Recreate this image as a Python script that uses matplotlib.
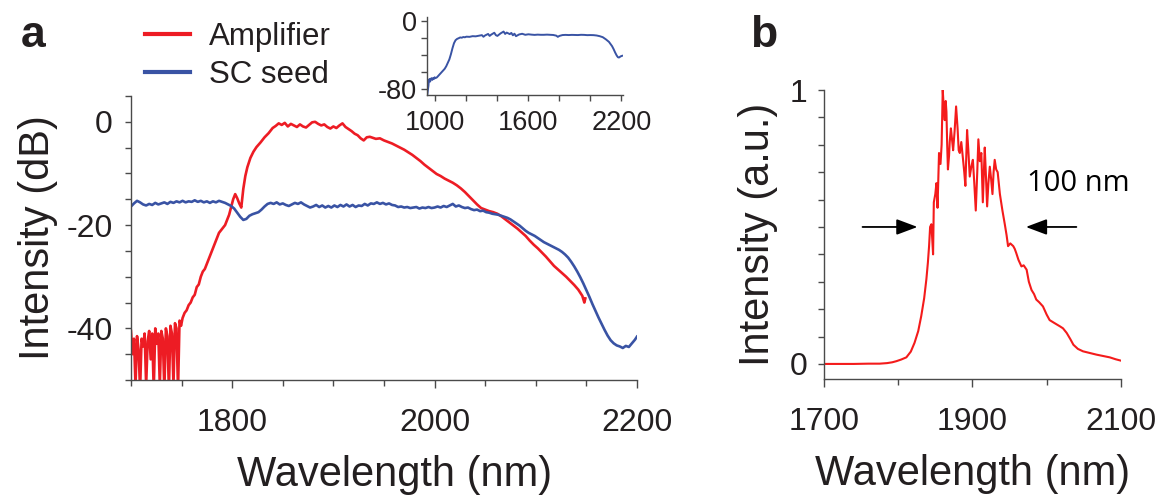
import matplotlib
matplotlib.use("Agg")
import matplotlib.pyplot as plt
from matplotlib.ticker import MultipleLocator, FixedLocator

plt.rcParams['font.family'] = ['Liberation Sans', 'DejaVu Sans']
plt.rcParams['axes.unicode_minus'] = False

# ---------------- Data ----------------
# Panel a: amplifier output (dB)
amp_wl = [1700, 1701.5, 1703, 1704.5, 1706, 1707.5, 1709, 1710.5, 1712, 1713.5, 1715, 1716.5,
          1718, 1719.5, 1721, 1722.5, 1724, 1725.5, 1727, 1728.5, 1730, 1731.5, 1733, 1734.5,
          1736, 1737.5, 1739, 1740.5, 1742, 1743.5, 1745, 1746.5, 1748, 1749.5, 1751, 1753,
          1755, 1757, 1759, 1761, 1763, 1765, 1767, 1769, 1771, 1773, 1775, 1777, 1779, 1781,
          1783, 1785, 1787, 1789, 1791, 1793, 1795, 1797, 1799, 1801, 1803, 1805, 1807, 1809,
          1811, 1813, 1815, 1818, 1821, 1824, 1828, 1832, 1836, 1840, 1843, 1846, 1849, 1852,
          1855, 1858, 1861, 1864, 1867, 1870, 1873, 1876, 1879, 1882, 1885, 1888, 1891, 1894,
          1897, 1900, 1903, 1906, 1909, 1912, 1915, 1918, 1921, 1924, 1927, 1930, 1933, 1936,
          1939, 1942, 1946, 1950, 1954, 1958, 1962, 1966, 1970, 1974, 1978, 1982, 1986, 1990,
          1994, 1998, 2002, 2006, 2010, 2014, 2018, 2022, 2026, 2030, 2034, 2038, 2042, 2046,
          2050, 2054, 2058, 2062, 2066, 2070, 2074, 2078, 2082, 2086, 2090, 2094, 2098, 2102,
          2106, 2110, 2114, 2118, 2122, 2126, 2130, 2134, 2138, 2142, 2146, 2148, 2149]
amp_db = [-40.5, -45, -42, -51, -41.5, -44, -52, -42, -43.5, -41, -51, -42.5,
          -40.5, -46, -41, -52, -40, -43, -41, -51, -40.5, -42, -52, -40,
          -41.5, -52, -39.5, -41, -51, -39, -40, -52, -38.5, -39.5, -38, -37,
          -36.5, -35.5, -35, -34, -33.5, -32, -31.5, -30, -29, -28.5, -27.5, -26.5, -25.5, -24.5,
          -23.5, -22.5, -21.5, -21, -20.5, -20, -19, -18, -16.5, -15, -14, -14.8, -15.8, -16.6,
          -13, -10.5, -8.8, -7, -5.8, -4.9, -4, -3, -2.2, -1.2, -0.8, -0.3, -0.6, -0.2,
          -0.9, -0.4, -0.7, -1.0, -0.5, -0.9, -1.1, -0.6, -0.1, 0.0, -0.4, -0.7, -0.5, -1.0,
          -1.3, -0.9, -1.2, -0.7, -0.3, -1.0, -1.4, -1.8, -2.3, -2.6, -3.2, -3.6, -3.0, -2.9,
          -3.1, -3.3, -3.2, -3.6, -3.9, -4.2, -4.6, -5.0, -5.4, -5.9, -6.4, -7.0, -7.6, -8.3,
          -8.9, -9.5, -10.1, -10.5, -11.0, -11.4, -11.8, -12.3, -12.9, -13.6, -14.4, -15.2, -16.0, -16.7,
          -17.0, -17.3, -17.5, -17.8, -18.3, -18.9, -19.5, -20.1, -20.7, -21.4, -22.1, -23.0, -23.8, -24.5,
          -25.3, -26.1, -27.0, -27.9, -28.6, -29.3, -30.0, -30.8, -31.6, -32.5, -33.7, -35.0, -34.2]

# Panel a: supercontinuum seed (dB)
seed_wl = [1700, 1703, 1706, 1709, 1712, 1715, 1718, 1721, 1724, 1727, 1730, 1733, 1736, 1739,
           1742, 1745, 1748, 1751, 1754, 1757, 1760, 1763, 1766, 1769, 1772, 1775, 1778, 1781,
           1784, 1787, 1790, 1793, 1796, 1799, 1802, 1805, 1808, 1811, 1814, 1817, 1820, 1823,
           1826, 1829, 1832, 1835, 1838, 1841, 1844, 1847, 1850, 1853, 1856, 1859, 1862, 1865,
           1868, 1871, 1874, 1877, 1880, 1883, 1886, 1889, 1892, 1895, 1898, 1901, 1904, 1907,
           1910, 1913, 1916, 1919, 1922, 1925, 1928, 1931, 1934, 1937, 1940, 1943, 1946, 1949,
           1952, 1955, 1958, 1961, 1964, 1967, 1970, 1973, 1976, 1979, 1982, 1985, 1988, 1991,
           1994, 1997, 2000, 2003, 2006, 2009, 2012, 2015, 2018, 2021, 2024, 2027, 2030, 2033,
           2036, 2039, 2042, 2045, 2048, 2051, 2054, 2057, 2060, 2063, 2066, 2069, 2072, 2075,
           2078, 2081, 2084, 2087, 2090, 2093, 2096, 2099, 2102, 2105, 2108, 2111, 2114, 2117,
           2120, 2123, 2126, 2129, 2132, 2135, 2138, 2141, 2144, 2147, 2150, 2153, 2156, 2159,
           2162, 2165, 2168, 2171, 2174, 2177, 2180, 2183, 2186, 2189, 2192, 2195, 2198, 2200]
seed_db = [-16.4, -15.8, -15.3, -15.6, -16.0, -16.2, -15.9, -16.1, -15.7, -16.0, -15.8, -15.6, -15.9, -15.5,
           -15.7, -15.4, -15.6, -15.3, -15.6, -15.4, -15.5, -15.2, -15.5, -15.3, -15.6, -15.4, -15.7, -15.4,
           -15.6, -15.3, -15.5, -15.7, -16.0, -16.3, -16.8, -17.6, -18.4, -19.0, -18.8, -18.2, -17.9, -17.7,
           -17.5, -17.0, -16.4, -15.9, -15.7, -15.9, -15.6, -16.0, -15.8, -16.1, -16.3, -16.0, -15.7, -15.9,
           -15.6, -16.0, -16.3, -16.6, -16.4, -16.1, -16.5, -16.2, -16.6, -16.3, -16.6, -16.2, -16.5, -16.1,
           -16.4, -16.0, -16.4, -16.1, -16.5, -16.2, -16.3, -15.9, -16.2, -15.8, -15.9, -15.6, -15.9, -15.7,
           -16.0, -15.8, -16.1, -16.2, -16.5, -16.4, -16.6, -16.5, -16.7, -16.6, -16.5, -16.8, -16.6, -16.7,
           -16.5, -16.7, -16.6, -16.4, -16.6, -16.3, -16.5, -16.2, -15.9, -16.4, -16.2, -16.5, -16.7, -16.6,
           -16.9, -17.1, -17.0, -17.3, -17.2, -17.5, -17.6, -17.8, -17.9, -18.0, -18.2, -18.4, -18.6, -18.9,
           -19.3, -19.7, -20.1, -20.6, -21.1, -21.5, -21.8, -22.1, -22.5, -22.9, -23.3, -23.6, -23.9, -24.2,
           -24.5, -24.8, -25.2, -25.7, -26.3, -27.1, -28.0, -29.0, -30.1, -31.3, -32.6, -33.9, -35.3, -36.6,
           -37.9, -39.1, -40.3, -41.4, -42.3, -42.9, -43.3, -43.5, -43.8, -43.4, -43.6, -42.9, -42.2, -41.6]

# Inset: full seed spectrum (dB)
full_wl = [948, 952, 955, 958, 962, 966, 970, 975, 980, 985, 990, 995, 1000, 1010, 1020, 1030,
           1040, 1050, 1060, 1070, 1080, 1090, 1100, 1110, 1120, 1130, 1140, 1150, 1160, 1170,
           1180, 1190, 1200, 1220, 1240, 1260, 1280, 1300, 1310, 1320, 1340, 1350, 1360, 1380,
           1390, 1400, 1420, 1440, 1450, 1460, 1480, 1490, 1500, 1510, 1520, 1540, 1560, 1580,
           1600, 1620, 1640, 1660, 1680, 1700, 1720, 1740, 1760, 1780, 1790, 1800, 1820, 1840,
           1860, 1880, 1900, 1920, 1940, 1960, 1980, 2000, 2020, 2040, 2060, 2080, 2100, 2120,
           2140, 2150, 2160, 2170, 2178, 2185, 2195, 2205]
full_db = [-86, -80, -76, -69, -68, -71, -68, -67, -69, -67, -68, -66, -67, -66, -64, -62,
           -60, -58, -56, -53, -49, -45, -39, -32, -26, -22.5, -21, -20.2, -19.3, -19.6,
           -18.8, -19.1, -18.4, -18.6, -17.8, -18.0, -17.3, -16.6, -18.5, -17.0, -15.2, -17.5, -16.0, -13.8,
           -16.6, -17.5, -14.6, -12.4, -15.2, -13.6, -15.4, -14.0, -16.8, -14.9, -17.8, -15.8, -15.0, -16.2,
           -15.6, -16.0, -16.3, -16.0, -16.2, -16.2, -16.0, -16.2, -16.4, -17.2, -18.6, -17.5, -16.5, -16.3,
           -16.5, -16.3, -16.4, -16.5, -16.2, -16.3, -16.6, -16.5, -16.6, -17.0, -17.8, -19.0, -21.5, -24.5,
           -29.5, -33, -37, -40.5, -42.5, -42.8, -41.5, -40.8]

# Panel b: amplifier output, linear (a.u.)
lin_wl = [1700, 1720, 1740, 1760, 1775, 1785, 1792, 1797.5, 1804, 1811, 1817, 1822, 1827, 1831,
          1835, 1838, 1840, 1841.6, 1843, 1844.7, 1846, 1847, 1848, 1850, 1851.5, 1853, 1855,
          1857, 1858.5, 1860, 1861.5, 1862.7, 1864, 1865, 1866, 1867, 1868.5, 1869.4, 1871,
          1872.5, 1874, 1876, 1878, 1880, 1881.5, 1883, 1885, 1887.4, 1889, 1890.5, 1892.8,
          1894.5, 1896.4, 1898.5, 1900.6, 1902.5, 1904.5, 1906.5, 1908, 1910, 1912, 1914,
          1916.6, 1918, 1919.8, 1921.5, 1923.4, 1925, 1927, 1928.5, 1930, 1932, 1934, 1937,
          1940.4, 1943.6, 1946, 1948, 1951, 1955, 1957, 1959, 1962, 1966, 1969, 1973, 1976,
          1979.6, 1983, 1986, 1990, 1995, 2000, 2004, 2010, 2018, 2022, 2027, 2032, 2036,
          2042, 2049, 2058, 2067, 2076, 2085, 2093, 2100]
lin_int = [0.000, 0.000, 0.000, 0.001, 0.001, 0.003, 0.006, 0.010, 0.016, 0.024, 0.045, 0.077, 0.12, 0.174,
           0.24, 0.31, 0.37, 0.43, 0.50, 0.51, 0.45, 0.40, 0.59, 0.62, 0.66, 0.57, 0.77,
           0.73, 0.80, 1.00, 0.93, 0.89, 0.96, 0.92, 0.80, 0.71, 0.76, 0.81, 0.86,
           0.82, 0.78, 0.85, 0.94, 0.86, 0.78, 0.77, 0.81, 0.745, 0.70, 0.65, 0.854,
           0.78, 0.684, 0.72, 0.745, 0.66, 0.56, 0.70, 0.82, 0.74, 0.77, 0.59,
           0.79, 0.70, 0.575, 0.66, 0.72, 0.68, 0.62, 0.70, 0.745, 0.71, 0.70, 0.62,
           0.56, 0.51, 0.47, 0.43, 0.44, 0.43, 0.42, 0.405, 0.38, 0.356, 0.36, 0.344, 0.30,
           0.27, 0.255, 0.235, 0.225, 0.21, 0.18, 0.16, 0.15, 0.137, 0.13, 0.113, 0.09, 0.07,
           0.055, 0.046, 0.040, 0.034, 0.029, 0.024, 0.017, 0.012]

legend_labels = ["Amplifier", "SC seed"]

# ---------------- Style ----------------
RED = "#ED1C24"
BLUE = "#3953A4"
RED_B = "#F41B1B"
TXT = "#231F20"
SPINE = "#4a4a4a"

fig = plt.figure(figsize=(11.6, 5.0), dpi=100)


def style_axes(ax, lab_size, major_len, minor_len, pad_x, pad_y):
    for s in ("top", "right"):
        ax.spines[s].set_visible(False)
    for s in ("left", "bottom"):
        ax.spines[s].set_color(SPINE)
        ax.spines[s].set_linewidth(1.0)
    ax.tick_params(which="both", direction="out", color=SPINE, width=1.0,
                   labelcolor=TXT, labelsize=lab_size)
    ax.tick_params(which="major", length=major_len)
    ax.tick_params(which="minor", length=minor_len)
    ax.tick_params(axis="x", which="both", pad=pad_x)
    ax.tick_params(axis="y", which="both", pad=pad_y)


# ---------------- Panel a ----------------
axa = fig.add_axes([0.1129, 0.24, 0.4362, 0.568])
l_amp, = axa.plot(amp_wl, amp_db, color=RED, lw=1.9)
l_seed, = axa.plot(seed_wl, seed_db, color=BLUE, lw=1.9)
axa.set_xlim(1700, 2200)
axa.set_ylim(-50, 5)
axa.xaxis.set_major_locator(FixedLocator([1800, 2000, 2200]))
axa.xaxis.set_minor_locator(MultipleLocator(50))
axa.yaxis.set_major_locator(FixedLocator([0, -20, -40]))
axa.yaxis.set_minor_locator(MultipleLocator(5))
style_axes(axa, 23, 6, 4, 14, 9)
axa.tick_params(axis="y", which="major", length=4)
axa.set_xlabel("Wavelength (nm)", fontsize=30, color=TXT)
axa.xaxis.set_label_coords(0.52, -0.265)
axa.set_ylabel("Intensity (dB)", fontsize=30, color=TXT, labelpad=6)

fig.legend([l_amp, l_seed], legend_labels, loc="upper left",
           bbox_to_anchor=(145 / 1160, 1 - 22 / 500), frameon=False,
           fontsize=22.5, handlelength=1.45, handletextpad=0.6,
           labelspacing=0.25, borderpad=0, borderaxespad=0,
           labelcolor=TXT)
for lh in fig.legends[0].get_lines():
    lh.set_linewidth(3)

# ---------------- Inset ----------------
axi = fig.add_axes([0.368, 0.81, 0.169, 0.1566])
axi.plot(full_wl, full_db, color=BLUE, lw=1.4)
axi.set_xlim(945, 2210)
axi.set_ylim(-86.7, 5)
axi.xaxis.set_major_locator(FixedLocator([1000, 1600, 2200]))
axi.xaxis.set_minor_locator(FixedLocator([1200, 1400, 1800, 2000]))
axi.yaxis.set_major_locator(FixedLocator([0, -80]))
axi.yaxis.set_minor_locator(FixedLocator([-20, -40, -60]))
style_axes(axi, 19.5, 4, 4, 7, 3)
axi.patch.set_alpha(0)

# ---------------- Panel b ----------------
axb = fig.add_axes([0.7103, 0.242, 0.256, 0.578])
axb.plot(lin_wl, lin_int, color=RED_B, lw=1.5)
axb.set_xlim(1700, 2100)
axb.set_ylim(-0.055, 1.0)
axb.spines["left"].set_bounds(-0.055, 1.0)
axb.xaxis.set_major_locator(FixedLocator([1700, 1900, 2100]))
axb.xaxis.set_minor_locator(FixedLocator([1800, 2000]))
axb.yaxis.set_major_locator(FixedLocator([0, 1]))
axb.yaxis.set_minor_locator(MultipleLocator(0.1))
style_axes(axb, 23, 6, 4, 14, 8)
axb.tick_params(axis="y", which="both", length=4)
axb.set_xlabel("Wavelength (nm)", fontsize=30, color=TXT)
axb.xaxis.set_label_coords(0.5, -0.26)
axb.set_ylabel("Intensity (a.u.)", fontsize=30, color=TXT, labelpad=8)

arrow_kw = dict(arrowstyle="-|>,head_length=0.8,head_width=0.3", color="black",
                lw=1.3, shrinkA=0, shrinkB=0, mutation_scale=16)
axb.annotate("", xy=(1826, 0.5), xytext=(1752, 0.5), arrowprops=arrow_kw)
axb.annotate("", xy=(1972, 0.5), xytext=(2040, 0.5), arrowprops=arrow_kw)
axb.text(1973, 0.66, "100 nm", fontsize=21, color="black", va="center", ha="left",
         family=["Open Sans", "DejaVu Sans"])

# ---------------- Panel letters ----------------
fig.text(21 / 1160, 1 - 47 / 500, "a", fontsize=32, fontweight="bold", color=TXT)
fig.text(750 / 1160, 1 - 47 / 500, "b", fontsize=32, fontweight="bold", color=TXT)

fig.savefig("out.png", dpi=100)
